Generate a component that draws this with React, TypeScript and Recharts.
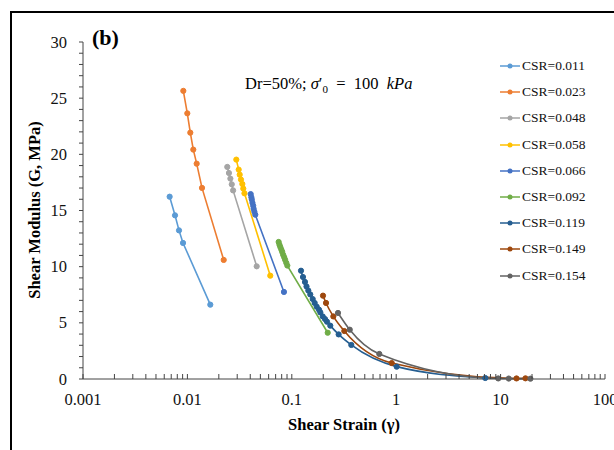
import React from 'react'
import { LineChart, Line, XAxis, YAxis } from 'recharts'

// shear strain (%) and shear modulus (MPa) per CSR
const strain011 = [0.00676, 0.00761, 0.00831, 0.00908, 0.01657]
const g011 = [16.23, 14.57, 13.23, 12.11, 6.62]

const strain023 = [0.00914, 0.00998, 0.01066, 0.01139, 0.01227, 0.0138, 0.02227]
const g023 = [25.65, 23.65, 21.93, 20.42, 19.17, 17.01, 10.6]

const strain048 = [0.0241, 0.025, 0.0258, 0.0266, 0.0274, 0.0461]
const g048 = [18.88, 18.34, 17.84, 17.33, 16.79, 10.03]

const strain058 = [0.0294, 0.031, 0.0317, 0.0326, 0.0336, 0.0343, 0.0352, 0.0622]
const g058 = [19.53, 18.64, 18.19, 17.75, 17.36, 16.95, 16.53, 9.2]

const strain066 = [0.0404, 0.041, 0.0414, 0.042, 0.0427, 0.0431, 0.0438, 0.0447, 0.0841]
const g066 = [16.46, 16.18, 15.97, 15.68, 15.42, 15.16, 14.9, 14.63, 7.75]

const strain092 = [0.0748, 0.0762, 0.0777, 0.0794, 0.081, 0.0826, 0.0846, 0.0863, 0.0885, 0.0906, 0.2208]
const g092 = [12.2, 11.95, 11.74, 11.52, 11.31, 11.06, 10.84, 10.61, 10.35, 10.1, 4.12]

const strain119 = [0.1225, 0.128, 0.1337, 0.1383, 0.1439, 0.1503, 0.1585, 0.1656, 0.1732, 0.1822, 0.1877, 0.1978, 0.208, 0.2173, 0.2337, 0.281, 0.3716, 1.011, 7.13]
const g119 = [9.64, 9.08, 8.64, 8.24, 7.88, 7.53, 7.12, 6.77, 6.44, 6.17, 5.93, 5.57, 5.34, 5.1, 4.75, 3.97, 3.03, 1.1, 0.09]

const strain149 = [0.199, 0.2127, 0.25, 0.3184, 0.906, 14.2, 17.3]
const g149 = [7.42, 6.77, 5.57, 4.27, 1.42, 0.05, 0.06]

const strain154 = [0.277, 0.359, 0.689, 9.5, 11.97, 19.3]
const g154 = [5.88, 4.39, 2.23, 0.05, 0.04, 0.03]

const xMajorTicks = [0.001, 0.01, 0.1, 1, 10, 100]
const xMinorMultipliers = [2, 3, 4, 5, 6, 7, 8, 9]
const yMajorTicks = [0, 5, 10, 15, 20, 25, 30]

const series = [
  { name: 'CSR=0.011', color: '#5B9BD5', strain: strain011, g: g011, smooth: false },
  { name: 'CSR=0.023', color: '#ED7D31', strain: strain023, g: g023, smooth: false },
  { name: 'CSR=0.048', color: '#A5A5A5', strain: strain048, g: g048, smooth: false },
  { name: 'CSR=0.058', color: '#FFC000', strain: strain058, g: g058, smooth: false },
  { name: 'CSR=0.066', color: '#4472C4', strain: strain066, g: g066, smooth: false },
  { name: 'CSR=0.092', color: '#70AD47', strain: strain092, g: g092, smooth: false },
  { name: 'CSR=0.119', color: '#255E91', strain: strain119, g: g119, smooth: true },
  { name: 'CSR=0.149', color: '#9E480E', strain: strain149, g: g149, smooth: true },
  { name: 'CSR=0.154', color: '#636363', strain: strain154, g: g154, smooth: true },
]

const serif = '"Liberation Serif", "Times New Roman", serif'
const axisColor = '#444'

const xTicks = [
  ...xMajorTicks,
  ...xMajorTicks.slice(0, -1).flatMap(d => xMinorMultipliers.map(m => d * m)),
]
const yTicks = Array.from({ length: 31 }, (_, i) => i)

const isMajor = (v: number) => Math.abs(Math.log10(v) - Math.round(Math.log10(v))) < 1e-6

function XTick(props: any) {
  const { x, y, payload } = props
  const v = payload.value as number
  const major = isMajor(v)
  return (
    <g>
      <line x1={x} x2={x} y1={y} y2={y - 5} stroke={axisColor} strokeWidth={1} />
      {major && (
        <text x={x} y={y + 26} textAnchor="middle" fontFamily={serif} fontSize={16.5} fill="#111">
          {String(v)}
        </text>
      )}
    </g>
  )
}

function YTick(props: any) {
  const { x, y, payload } = props
  const v = payload.value as number
  return (
    <g>
      <line x1={x - 4} x2={x} y1={y} y2={y} stroke={axisColor} strokeWidth={1} />
      {yMajorTicks.includes(v) && (
        <text x={x - 16} y={y + 5.5} textAnchor="end" fontFamily={serif} fontSize={16.5} fill="#111">
          {v}
        </text>
      )}
    </g>
  )
}

function LegendList() {
  return (
    <div style={{ position: 'absolute', left: 500, top: 53, fontFamily: serif, fontSize: 13.5, color: '#111' }}>
      {series.map(s => (
        <div key={s.name} style={{ display: 'flex', alignItems: 'center', height: 26.2 }}>
          <svg width={20} height={8} style={{ marginRight: 2 }}>
            <line x1={0} x2={20} y1={4} y2={4} stroke={s.color} strokeWidth={1.5} />
            <circle cx={10} cy={4} r={2.5} fill={s.color} />
          </svg>
          <span>{s.name}</span>
        </div>
      ))}
    </div>
  )
}

export default function App() {
  return (
    <div style={{ position: 'absolute', left: 0, top: 0, width: 614, height: 450, overflow: 'hidden', background: '#fff' }}>
      <div style={{ position: 'absolute', left: 10, top: 11, width: 700, height: 600, border: '2px solid #000' }} />
      <LineChart width={614} height={450} margin={{ top: 42, right: 9, bottom: 41, left: 43 }}>
        <XAxis
          dataKey="x"
          type="number"
          scale="log"
          domain={[0.001, 100]}
          allowDataOverflow
          ticks={xTicks}
          tick={<XTick />}
          tickLine={false}
          tickSize={0}
          tickMargin={0}
          interval={0}
          height={30}
          stroke={axisColor}
        />
        <YAxis
          type="number"
          domain={[0, 30]}
          ticks={yTicks}
          tick={<YTick />}
          tickLine={false}
          tickSize={0}
          tickMargin={0}
          interval={0}
          width={40}
          stroke={axisColor}
        />
        {series.map(s => (
          <Line
            key={s.name}
            name={s.name}
            data={s.strain.map((x, i) => ({ x, g: s.g[i] }))}
            dataKey="g"
            type={s.smooth ? 'monotone' : 'linear'}
            stroke={s.color}
            strokeWidth={1.6}
            dot={{ r: 2.6, fill: s.color, stroke: s.color, strokeWidth: 1 }}
            isAnimationActive={false}
          />
        ))}
      </LineChart>
      <LegendList />
      <div style={{ position: 'absolute', left: 92, top: 25, fontFamily: serif, fontWeight: 'bold', fontSize: 22 }}>(b)</div>
      <div style={{ position: 'absolute', left: 245, top: 74, fontFamily: serif, fontSize: 16.5, whiteSpace: 'nowrap' }}>
        Dr=50%;&nbsp;<i>σ</i>′<sub style={{ fontSize: 11 }}>0</sub>&nbsp;&nbsp;=&nbsp;&nbsp;100&nbsp;&nbsp;<i>kPa</i>
      </div>
      <div
        style={{
          position: 'absolute', left: 35, top: 210, transform: 'translate(-50%, -50%) rotate(-90deg)',
          fontFamily: serif, fontWeight: 'bold', fontSize: 16.5, whiteSpace: 'nowrap',
        }}
      >
        Shear Modulus (G, MPa)
      </div>
      <div
        style={{
          position: 'absolute', left: 344, top: 425, transform: 'translate(-50%, -50%)',
          fontFamily: serif, fontWeight: 'bold', fontSize: 16.5, whiteSpace: 'nowrap',
        }}
      >
        Shear Strain (γ)
      </div>
    </div>
  )
}
